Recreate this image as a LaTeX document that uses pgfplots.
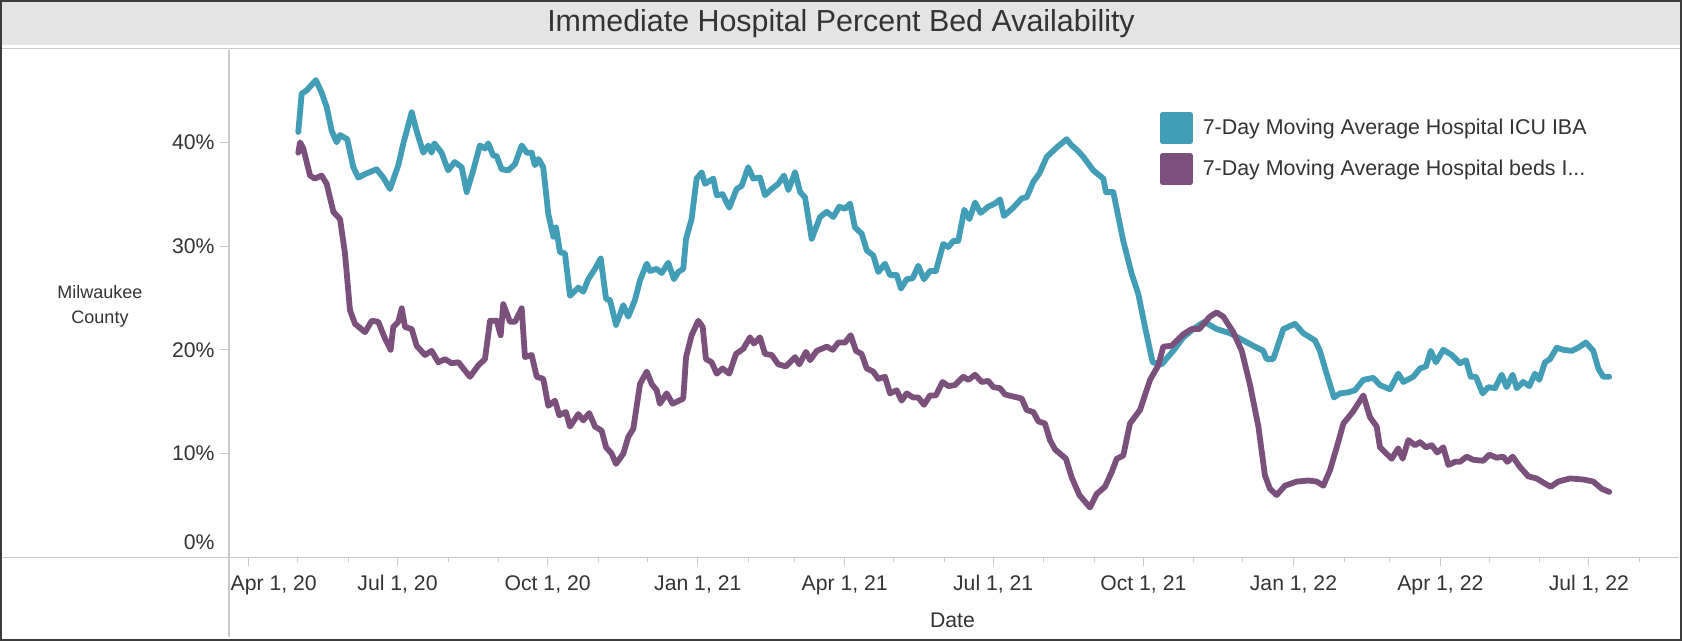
\documentclass[border=0pt]{standalone}
\usepackage{fontspec}
\setmainfont{Liberation Sans}
\usepackage{pgfplots}
\pgfplotsset{compat=1.18}
\usepackage{pgfplotstable}
\definecolor{icu}{RGB}{66,157,182}
\definecolor{beds}{RGB}{123,80,124}
\definecolor{txt}{RGB}{51,51,51}
\definecolor{band}{RGB}{228,228,228}
\definecolor{rulec}{RGB}{200,200,200}
\definecolor{framec}{RGB}{60,60,60}

% x = days since Apr 1, 2020 ; y = percent
\pgfplotstableread{
day val
30.2 41.0
32.3 44.7
35.3 45.0
41.0 46.0
44.5 44.8
47.6 43.4
50.7 41.1
53.7 40.0
55.8 40.7
60.2 40.3
63.9 37.6
67.0 36.6
72.0 37.0
78.2 37.4
82.3 36.6
86.4 35.5
91.5 37.8
94.6 39.9
99.7 42.9
102.7 41.1
106.8 39.0
109.9 39.7
111.9 39.0
113.6 39.9
118.0 39.0
122.0 37.3
126.0 38.1
130.3 37.6
133.4 35.2
137.4 37.3
141.5 39.7
144.6 39.4
146.6 39.9
149.7 38.7
151.7 38.7
154.8 37.4
158.9 37.3
163.0 37.9
167.1 39.7
170.2 39.0
173.2 39.0
175.2 37.8
177.3 38.4
180.3 37.6
183.4 33.1
186.5 30.9
188.1 31.8
190.6 29.4
193.6 29.3
196.7 25.2
201.8 26.0
204.8 25.6
207.9 26.8
212.0 27.8
215.5 28.8
218.8 24.9
221.2 24.8
224.9 22.4
229.4 24.3
232.4 23.2
236.5 24.8
239.6 26.7
243.7 28.3
245.7 27.6
249.8 27.8
252.9 27.4
256.9 28.4
260.4 26.8
263.0 27.5
266.1 27.8
267.8 30.7
271.2 32.6
274.3 36.5
277.4 37.1
279.4 36.0
284.5 36.5
286.6 34.9
290.2 35.0
294.3 33.7
298.8 35.5
301.9 35.8
305.9 37.6
309.0 36.5
313.1 36.6
316.2 34.9
320.3 35.5
324.3 36.0
327.8 36.8
330.5 35.4
334.6 37.1
337.7 35.2
340.7 34.7
344.8 30.7
349.9 32.8
354.0 33.3
358.0 32.8
361.7 33.8
365.2 33.6
368.3 34.1
371.3 31.8
375.4 31.2
378.5 29.6
382.5 29.1
385.6 27.5
389.7 28.3
392.8 27.2
396.9 27.2
399.5 25.9
403.0 26.8
406.7 26.9
410.1 28.1
413.6 26.8
417.3 27.6
420.9 27.6
425.4 30.2
428.5 29.9
431.6 30.5
434.6 30.5
438.3 33.5
441.4 32.6
444.9 34.2
448.3 33.2
453.0 33.8
457.1 34.1
460.2 34.5
462.6 32.9
468.3 33.7
473.5 34.6
476.5 34.7
480.6 36.2
484.3 37.0
488.8 38.6
494.9 39.5
501.0 40.3
504.1 39.7
507.8 39.2
511.2 38.6
517.3 37.3
523.5 36.5
525.1 35.2
529.6 35.2
535.7 30.5
540.9 27.3
544.9 25.4
549.0 22.2
553.7 18.8
559.2 18.6
566.3 19.9
572.5 21.2
578.6 22.0
585.4 22.7
592.9 22.0
601.1 21.6
609.3 20.9
616.4 20.3
621.5 19.9
623.6 19.1
627.6 19.1
633.8 22.0
640.9 22.5
646.0 21.6
653.2 20.9
656.2 19.9
660.3 17.7
664.8 15.4
668.5 15.8
673.6 15.9
677.7 16.1
682.8 17.1
688.9 17.3
693.0 16.6
699.1 16.2
704.2 17.7
707.3 16.9
713.4 17.4
717.5 18.2
721.2 18.4
724.1 19.9
727.3 18.8
731.8 20.0
737.0 19.5
742.0 18.7
745.7 19.0
748.6 17.4
751.8 17.4
755.9 15.8
759.4 16.4
763.5 16.3
767.6 17.6
770.6 16.4
774.3 17.6
776.8 16.3
780.8 16.9
784.5 16.5
788.0 17.7
790.6 17.1
794.1 18.8
797.2 19.1
801.3 20.2
805.3 20.0
810.5 19.9
814.5 20.2
819.2 20.7
823.7 19.9
826.8 18.2
829.8 17.4
833.5 17.4
}\icudata

\pgfplotstableread{
day val
30.2 39.0
31.3 40.0
33.3 39.4
37.4 36.8
40.4 36.5
44.5 36.8
47.6 36.0
51.7 33.3
55.8 32.6
58.8 29.3
61.9 23.8
65.0 22.5
71.1 21.7
75.2 22.8
79.2 22.7
83.3 21.1
86.8 20.0
88.4 22.2
91.5 22.7
93.6 24.0
95.6 22.2
99.7 22.0
102.7 20.4
107.8 19.5
111.9 19.9
116.0 18.8
120.1 19.1
124.2 18.7
128.3 18.8
135.4 17.4
140.5 18.5
144.6 19.1
147.7 22.8
151.8 22.8
154.2 21.4
155.8 24.4
159.9 22.7
163.0 22.7
167.1 24.0
169.1 19.3
173.2 19.5
176.3 17.4
180.3 17.2
183.4 14.6
187.5 15.1
190.1 13.7
194.2 14.0
196.7 12.6
201.8 13.8
204.8 13.2
208.5 13.9
212.0 12.6
216.1 12.2
218.8 10.6
222.2 10.0
224.9 9.0
229.4 10.0
232.4 11.6
235.5 12.4
239.6 16.7
243.7 17.9
246.8 16.7
249.8 16.1
251.8 14.8
255.9 15.8
259.6 14.8
266.1 15.3
267.8 19.3
271.2 21.4
275.3 22.8
278.0 22.2
280.0 19.1
283.5 18.8
286.6 17.7
290.2 18.2
294.3 17.7
298.4 19.6
302.9 20.1
307.0 21.2
309.4 20.6
313.1 21.2
316.2 19.6
320.3 19.5
324.3 18.6
329.0 18.4
334.6 19.3
337.2 18.6
341.3 19.8
343.8 19.0
347.9 19.9
354.0 20.3
357.7 20.0
361.1 20.7
365.2 20.7
368.7 21.4
371.9 19.9
375.4 19.6
378.5 18.2
382.5 17.9
385.6 17.2
389.7 17.4
392.8 15.8
396.9 16.1
399.9 15.1
403.0 15.8
407.0 15.4
410.1 15.4
413.6 14.7
417.3 15.6
420.9 15.6
425.0 16.9
428.5 16.5
432.6 16.6
437.7 17.4
440.8 17.1
444.9 17.6
449.0 16.9
453.0 17.0
456.1 16.4
460.2 16.3
463.2 15.7
468.3 15.5
473.5 15.3
476.5 14.2
480.6 14.0
483.7 13.1
487.7 12.9
490.8 11.3
493.9 10.4
500.6 9.5
504.1 7.7
508.8 6.0
515.3 4.8
519.4 6.1
524.5 6.8
528.6 8.2
531.7 9.5
535.7 9.8
539.8 12.9
546.0 14.2
552.1 17.1
557.2 18.5
560.2 20.3
565.4 20.4
572.5 21.5
577.6 22.0
582.3 22.0
588.8 23.2
592.9 23.6
597.0 23.2
603.1 21.7
608.3 19.9
613.4 16.6
618.5 12.6
622.5 7.9
625.6 6.6
629.7 6.0
634.8 6.9
642.0 7.3
649.1 7.4
654.2 7.3
658.3 6.9
662.4 8.4
666.5 10.6
670.6 12.9
676.3 14.0
682.8 15.6
686.9 13.5
691.0 12.6
693.0 10.6
700.2 9.5
704.2 10.5
706.9 9.5
710.4 11.3
714.5 10.8
717.5 11.1
721.2 10.6
724.7 10.8
728.1 10.1
731.8 10.6
734.9 8.9
739.0 9.2
742.0 9.2
746.1 9.7
750.2 9.4
756.3 9.3
760.0 9.9
764.5 9.6
768.6 9.7
771.0 9.2
774.3 9.7
778.8 8.7
783.9 7.8
789.0 7.6
793.1 7.2
797.6 6.8
802.3 7.3
809.4 7.6
817.6 7.5
823.7 7.3
828.9 6.6
833.5 6.3
}\bedsdata

\begin{document}
\begin{tikzpicture}
\useasboundingbox (0,0) rectangle (841pt,320.5pt);
\fill[white] (0,0) rectangle (841pt,320.5pt);
\fill[band] (1pt,298pt) rectangle (840pt,319.5pt);
\draw[rulec, line width=0.75pt] (1pt,296.25pt) -- (840pt,296.25pt);
\draw[rulec, line width=0.6pt] (114.5pt,295.5pt) -- (114.5pt,2pt);
\draw[rulec, line width=0.6pt] (1.5pt,41.85pt) -- (839.5pt,41.85pt);
\node[font=\fontsize{15.2pt}{18pt}\selectfont, text=txt, inner sep=0pt] at (420.5pt,308.6pt) {Immediate Hospital Percent Bed Availability};
\node[font=\fontsize{9pt}{12.6pt}\selectfont, text=txt, align=center, inner sep=0pt] at (50pt,167.5pt) {Milwaukee\\County};
\begin{axis}[
  at={(114.5pt,41.85pt)}, anchor=south west,
  scale only axis, width=723.5pt, height=253.65pt,
  xmin=-12.25, xmax=874.4, ymin=0, ymax=48.9,
  axis line style={draw=none},
  tick align=outside,
  xtick pos=bottom, ytick pos=left,
  major tick length=4.5pt, minor tick length=2.5pt,
  tick style={rulec, line width=0.5pt},
  xtick={91,183,275,365,456,548,640,730,821},
  xticklabels={{Jul 1, 20},{Oct 1, 20},{Jan 1, 21},{Apr 1, 21},{Jul 1, 21},{Oct 1, 21},{Jan 1, 22},{Apr 1, 22},{Jul 1, 22}},
  minor xtick={30,61,122,153,214,244,306,334,395,426,487,518,579,609,671,699,760,791,852},
  extra x ticks={0}, extra x tick labels={Apr 1{,} 20},
  extra x tick style={xticklabel style={anchor=north west, xshift=-9.35pt}},
  ytick={10,20,30,40}, yticklabels={10\%,20\%,30\%,40\%},
  extra y ticks={0}, extra y tick labels={0\%},
  extra y tick style={yticklabel style={anchor=south east, yshift=3.5pt}},
  tick label style={font=\fontsize{10.6pt}{12pt}\selectfont, text=txt, inner sep=0pt},
  xticklabel style={anchor=north, yshift=-4.35pt},
  yticklabel style={anchor=east, xshift=-2.5pt},
  xlabel={Date},
  every axis x label/.style={at={(axis description cs:0.5,0)}, anchor=center, yshift=-31.35pt, font=\fontsize{10.6pt}{12pt}\selectfont, text=txt},
  legend style={at={(rel axis cs:0.6434,0.8784)}, anchor=north west, draw=none, fill=none, inner sep=0pt, outer sep=0pt, row sep=4.1pt, column sep=5pt, font=\fontsize{10.7pt}{12pt}\selectfont, text=txt, nodes={inner sep=0pt}},
  legend cell align=left,
  legend image code/.code={\fill[#1] (0pt,-6.75pt) rectangle (13.5pt,6.75pt);},
]
\addplot[icu, line width=2.9pt, line join=round, line cap=round] table[x=day,y=val] {\icudata};
\addlegendentry{7-Day Moving Average Hospital ICU IBA}
\addplot[beds, line width=2.9pt, line join=round, line cap=round] table[x=day,y=val] {\bedsdata};
\addlegendentry{7-Day Moving Average Hospital beds I...}
\end{axis}
\draw[framec, line width=1pt] (0.5pt,0.5pt) rectangle (840.5pt,320pt);
\end{tikzpicture}
\end{document}
